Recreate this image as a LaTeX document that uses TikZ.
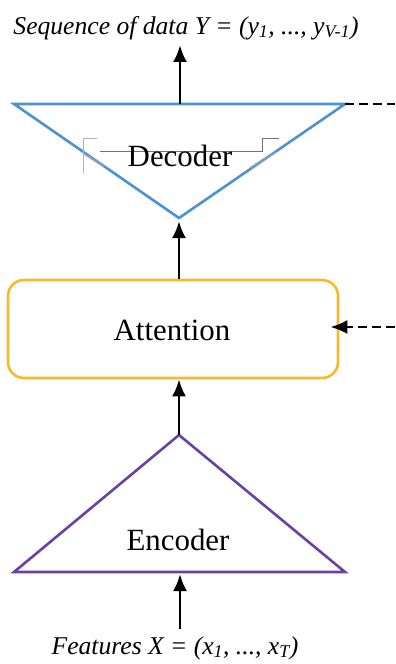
\documentclass[tikz,border=0pt]{standalone}
\usepackage{fontspec}
\setmainfont{Liberation Serif}
\usetikzlibrary{arrows.meta}
\usetikzlibrary{positioning}

\definecolor{decblue}{RGB}{74,146,212}
\definecolor{attorange}{RGB}{249,184,40}
\definecolor{encpurple}{RGB}{108,64,160}

\begin{document}
\begin{tikzpicture}[x=1bp,y=-1bp]
\tikzstyle{block} = [rectangle, draw=attorange, line width=2.6bp,
minimum width=330bp, minimum height=98bp, rounded corners=16bp, inner sep=0pt]
\tikzstyle{label} = [inner sep=0pt, font=\fontsize{31}{36}\selectfont]
\tikzstyle{io} = [inner sep=0pt, font=\fontsize{25.7}{30}\selectfont\itshape]
\tikzstyle{line} = [draw, line width=2.8bp, -{Latex[length=17bp,width=14bp]}]
\tikzstyle{side} = [draw, line width=2.6bp, dash pattern=on 9bp off 5bp]
\useasboundingbox (0,0) rectangle (395,664);
% decoder (upside down triangle)
\coordinate (decL) at (14,104);
\coordinate (decR) at (345,104);
\coordinate (decA) at (179,218);
\coordinate (decT) at (180,104);
\draw[decblue, line width=2.6bp, line join=miter] (decL) -- (decR) -- (decA) -- cycle;
% stray frame lines round the decoder label
\draw[black!30, line width=0.9bp] (83,173) -- (83,138) -- (97,138);
\draw[black!55, line width=1bp] (100,151) -- (262,151) -- (262,138) -- (279,138);
\draw[black!35, line width=2.5bp, opacity=0.6] (84,154) -- (104,166);
\draw[black!35, line width=2.5bp, opacity=0.6] (250,168) -- (276,152);
\node[label] (decoder) at (180,156) {Decoder};
% attention
\node[block] (attention) at (173,329) {};
\node[label] at (172,330) {Attention};
% encoder
\coordinate (encL) at (14,572);
\coordinate (encR) at (345,572);
\coordinate (encA) at (179,435);
\coordinate (encB) at (180,574);
\draw[encpurple, line width=2.6bp, line join=miter] (encL) -- (encR) -- (encA) -- cycle;
\node[label] (encoder) at (178,540) {Encoder};
% inputs and outputs
\node[io] (output) at (186,28) {Sequence of data \textit{Y} = (\textit{y}\textsubscript{1}, ..., \textit{y}\textsubscript{V-1})};
\node[io] (features) at (175,648) {Features \textit{X} = (\textit{x}\textsubscript{1}, ..., \textit{x}\textsubscript{T})};
\coordinate (memD) at (395,104);
\coordinate (memA) at (395,327);
% connectors
\draw[line] ([yshift=7bp]features.north -| encB) -- (encB);
\draw[line] (encA) -- (attention.south -| encA);
\draw[line] (attention.north -| decA) -- ([yshift=-3bp]decA);
\draw[line] (decT) -- ([yshift=-5bp]output.south -| decT);
\draw[side] (decR) -- (memD);
\draw[side, -{Latex[length=17bp,width=14bp]}, shorten >=-9bp] (memA) -- (attention.east |- memA);
\end{tikzpicture}
\end{document}
